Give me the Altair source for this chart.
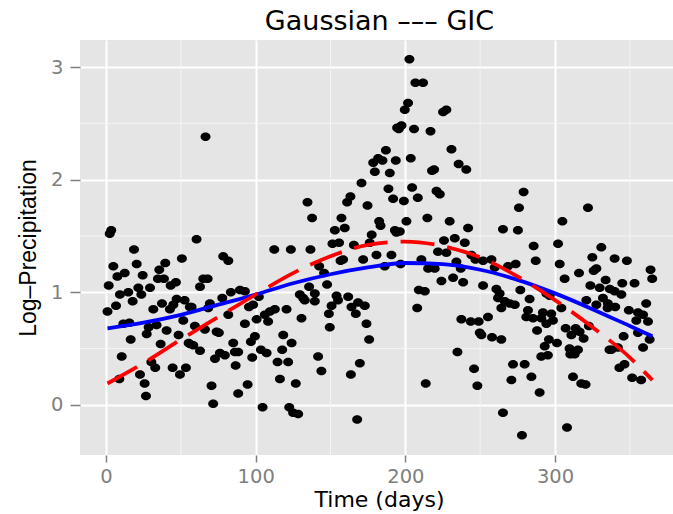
import altair as alt
import pandas as pd

# ---- scatter data (day, log-precipitation) ----
pts = [
(3.5,1.55),(2.5,1.52),(18.7,1.38),(4.9,1.23),(20.5,1.25),(7.6,1.14),(12.5,1.17),(24.5,1.15),(39.6,1.26),(35.6,1.20),
(50.7,1.30),(1.8,1.06),(9.3,0.98),(14.9,1.00),(21.6,1.04),(23.6,0.98),(17.8,0.92),(29.4,1.04),(34.7,1.12),(38.7,1.12),
(43.2,1.06),(46.7,1.09),(1.0,0.83),(6.7,0.88),(31.6,0.85),(37.4,0.90),(42.7,0.85),(47.2,0.94),(45.0,0.89),(52.5,0.93),
(56.0,0.87),(51.6,0.75),(11.6,0.72),(15.6,0.73),(33.8,0.71),(28.5,0.69),(27.2,0.63),(40.5,0.66),(48.5,0.62),(16.5,0.58),
(36.5,0.54),(55.2,0.55),(10.5,0.43),(30.3,0.38),(32.9,0.33),(44.5,0.33),(53.4,0.33),(49.4,0.27),(8.9,0.23),(22.7,0.27),
(25.8,0.19),(26.7,0.08),
(66.5,2.38),(60.5,1.47),(78.3,1.32),(81.7,1.28),(112.4,1.38),(123.5,1.38),(65.0,1.12),(67.9,1.12),(62.8,1.05),(57.2,0.87),
(69.4,0.90),(68.3,0.86),(77.7,0.95),(83.4,1.00),(89.5,1.02),(92.8,1.01),(95.5,0.87),(98.3,0.89),(102.1,0.96),(81.7,0.80),
(92.8,0.72),(100.6,0.76),(106.1,0.80),(109.5,0.83),(108.3,0.74),(112.8,0.85),(120.6,0.85),(59.4,0.70),(66.1,0.67),(73.9,0.65),
(75.4,0.64),(56.1,0.54),(58.3,0.53),(62.8,0.48),(85.0,0.55),(96.8,0.56),(99.5,0.61),(118.4,0.62),(124.0,0.55),(72.8,0.41),
(76.1,0.46),(79.4,0.44),(86.1,0.47),(88.3,0.47),(86.6,0.35),(97.7,0.42),(103.5,0.49),(107.3,0.46),(117.7,0.49),(114.6,0.38),
(121.7,0.38),(116.2,0.23),(70.5,0.17),(88.3,0.10),(94.6,0.18),(71.6,0.01),(104.6,-0.02),(122.4,-0.02),(125.0,-0.07),
(194.5,2.46),(187.0,2.26),(181.8,2.19),(178.5,2.15),(184.7,2.17),(193.6,2.17),(179.6,2.07),(189.6,2.06),(170.7,1.97),(188.7,1.92),
(191.8,1.83),(163.3,1.85),(161.1,1.80),(174.7,1.77),(134.6,1.80),(137.7,1.66),(157.3,1.66),(159.5,1.57),(152.9,1.55),(182.5,1.63),
(183.4,1.59),(177.5,1.51),(193.0,1.55),(194.0,1.53),(151.3,1.43),(155.7,1.44),(165.6,1.42),(176.2,1.44),(136.6,1.38),(142.4,1.23),
(145.7,1.17),(147.7,1.07),(135.7,1.05),(156.7,1.28),(158.4,1.29),(171.8,1.29),(180.7,1.33),(186.2,1.23),(190.7,1.33),(129.5,0.98),
(132.8,0.93),(139.5,0.99),(139.5,0.92),(131.7,0.95),(154.0,0.97),(155.0,0.93),(150.7,0.88),(161.8,0.96),(164.0,0.87),(168.4,0.91),
(172.9,0.88),(166.9,0.81),(148.9,0.81),(174.0,0.72),(149.5,0.69),(175.8,0.58),(130.6,0.77),(141.7,0.43),(143.9,0.30),(169.6,0.37),
(163.6,0.27),(126.8,0.19),(128.4,-0.08),(167.8,-0.13),
(202.7,3.07),(206.7,2.86),(211.8,2.86),(201.8,2.68),(199.6,2.62),(197.4,2.48),(195.6,2.45),(205.8,2.45),(216.8,2.43),(225.2,2.60),
(227.4,2.62),(230.8,2.27),(203.6,2.19),(235.6,2.14),(240.7,2.09),(217.8,2.08),(219.2,2.09),(204.5,1.93),(199.0,1.81),(208.3,1.84),
(220.8,1.90),(223.0,1.87),(200.7,1.63),(214.7,1.66),(229.6,1.63),(241.9,1.57),(265.2,1.56),(196.3,1.54),(225.8,1.46),(233.0,1.48),
(239.7,1.44),(221.8,1.36),(227.4,1.35),(244.1,1.33),(246.8,1.29),(196.8,1.25),(210.7,1.29),(215.2,1.21),(219.6,1.21),(234.1,1.27),
(237.0,1.21),(251.9,1.28),(257.5,1.29),(259.7,1.22),(224.1,1.10),(231.9,1.13),(238.6,1.09),(251.9,1.06),(209.0,1.02),(213.0,1.01),
(260.8,1.03),(263.0,0.99),(261.9,0.95),(264.1,0.86),(255.2,0.78),(207.9,0.86),(237.4,0.76),(243.7,0.74),(249.0,0.74),(249.7,0.64),
(250.8,0.62),(257.9,0.60),(264.1,0.58),(234.8,0.47),(245.9,0.32),(248.1,0.17),(213.6,0.19),(265.2,-0.07),
(279.0,1.89),(275.9,1.75),(322.0,1.75),(304.9,1.63),(275.2,1.55),(285.7,1.41),(302.0,1.43),(330.9,1.40),(324.9,1.31),(287.1,1.28),
(303.1,1.25),(316.0,1.17),(327.6,1.21),(325.8,1.19),(268.6,1.23),(273.7,1.25),(306.4,1.12),(333.8,1.11),(323.6,1.06),(329.8,1.04),
(276.8,1.02),(283.0,0.94),(294.2,0.99),(296.4,0.97),(266.4,0.92),(269.7,0.90),(273.1,0.89),(281.9,0.84),(280.8,0.78),(285.3,0.77),
(290.8,0.77),(291.9,0.82),(297.5,0.81),(298.6,0.75),(304.2,0.86),(294.2,0.72),(320.9,0.93),(327.6,0.89),(332.0,0.95),(335.3,0.90),
(322.6,0.70),(288.0,0.66),(307.1,0.68),(310.9,0.62),(313.8,0.68),(316.4,0.65),(319.1,0.59),(295.9,0.58),(301.3,0.55),(293.1,0.52),
(290.8,0.43),(295.2,0.44),(309.7,0.50),(315.3,0.49),(313.1,0.45),(310.2,0.45),(336.4,0.49),(271.9,0.36),(279.7,0.36),(270.8,0.22),
(284.2,0.25),(289.7,0.11),(312.0,0.25),(317.5,0.19),(320.4,0.18),(277.9,-0.27),(308.0,-0.20),
(339.8,1.30),(348.0,1.28),(363.8,1.20),(364.9,1.12),(344.9,1.08),(353.1,1.08),(336.6,1.03),(339.8,1.01),(344.3,0.98),(335.1,0.86),
(340.2,0.87),(360.9,0.90),(349.3,0.84),(355.4,0.82),(358.8,0.80),(362.1,0.74),(354.3,0.75),(345.8,0.61),(355.4,0.64),(363.2,0.58),
(358.8,0.51),(337.6,0.49),(342.0,0.51),(343.0,0.33),(346.4,0.36),(351.5,0.24),(357.5,0.22),
]
days = [p[0] for p in pts]
logp = [p[1] for p in pts]

# ---- fitted curves ----
curve_days = [1, 25, 50, 75, 100, 125, 150, 175, 200, 225, 250, 275, 300, 325, 350, 365]
gaussian_fit = [0.68, 0.73, 0.80, 0.89, 0.98, 1.08, 1.16, 1.22, 1.26, 1.25, 1.20, 1.11, 0.99, 0.85, 0.70, 0.61]
gic_fit = [0.19, 0.37, 0.58, 0.78, 0.98, 1.17, 1.32, 1.42, 1.45, 1.41, 1.31, 1.14, 0.93, 0.69, 0.42, 0.22]

x_ticks = [0, 100, 200, 300]
y_ticks = [0, 1, 2, 3]
x_minor = [50, 150, 250, 350]
y_minor = [0.5, 1.5, 2.5]

scatter_df = pd.DataFrame({"day": days, "logp": logp})
blue_df = pd.DataFrame({"day": curve_days, "val": gaussian_fit})
red_df = pd.DataFrame({"day": curve_days, "val": gic_fit})
xminor_df = pd.DataFrame({"v": x_minor})
yminor_df = pd.DataFrame({"v": y_minor})

xs = alt.Scale(domain=[-17.37, 378.8], nice=False, zero=False)
ys = alt.Scale(domain=[-0.445, 3.24], nice=False, zero=False)

x_axis = alt.Axis(
    values=x_ticks, grid=True, gridColor="white", gridWidth=2, domain=False,
    tickColor="#7F7F7F", tickSize=7, tickWidth=1.5,
    labelColor="#7F7F7F", labelFont="DejaVu Sans", labelFontSize=19.5,
    labelBaseline="alphabetic", labelPadding=20, labelFlush=False,
    title="Time (days)", titleFont="DejaVu Sans", titleFontSize=22,
    titleFontWeight="normal", titleColor="black", titleBaseline="alphabetic",
    titleAlign="center", titleX=299, titleY=51,
)
y_axis = alt.Axis(
    values=y_ticks, grid=True, gridColor="white", gridWidth=2, domain=False, format="d",
    tickColor="#7F7F7F", tickSize=10, tickWidth=1.5,
    labelColor="#7F7F7F", labelFont="DejaVu Sans", labelFontSize=19.5,
    labelBaseline="middle", labelPadding=7, labelFlush=False,
    title="Log–Precipitation", titleFont="Liberation Sans", titleFontSize=23,
    titleFontWeight="normal", titleColor="black", titleAngle=270,
    titleAlign="center", titleBaseline="alphabetic", titleX=-45, titleY=207.5,
)

X = lambda f: alt.X(f, scale=xs, axis=x_axis)
Y = lambda f: alt.Y(f, scale=ys, axis=y_axis)

xminor = alt.Chart(xminor_df).mark_rule(color="#F4F4F4", strokeWidth=1).encode(
    x=X("v:Q")
)
yminor = alt.Chart(yminor_df).mark_rule(color="#F4F4F4", strokeWidth=1).encode(
    y=Y("v:Q")
)

points = alt.Chart(scatter_df).mark_point(
    shape="M-1,0A1,0.85,0,1,1,1,0A1,0.85,0,1,1,-1,0Z",
    filled=True, color="black", opacity=1, size=100, clip=True,
).encode(x=X("day:Q"), y=Y("logp:Q"))

blue = alt.Chart(blue_df).mark_line(
    color="#0000FF", strokeWidth=3.8, interpolate="monotone", strokeCap="butt", clip=True
).encode(x=X("day:Q"), y=Y("val:Q"))

red = alt.Chart(red_df).mark_line(
    color="#FF0000", strokeWidth=3.8, interpolate="monotone", strokeDash=[34, 13],
    strokeCap="butt", clip=True
).encode(x=X("day:Q"), y=Y("val:Q"))

chart = alt.layer(xminor, yminor, points, blue, red).properties(
    width=593, height=415,
    autosize=alt.AutoSizeParams(type="none"),
    padding={"left": 80, "top": 40, "right": 0, "bottom": 59},
    background="white",
    title=alt.TitleParams(
        "Gaussian ––– GIC", font="DejaVu Sans", fontSize=27, fontWeight="normal",
        color="black", anchor="middle", frame="group", baseline="alphabetic",
        offset=9, dx=3, dy=26,
    ),
).configure_view(fill="#E5E5E5", strokeWidth=0)

chart.save("out.html", embed_options={"renderer": "svg", "actions": False})
